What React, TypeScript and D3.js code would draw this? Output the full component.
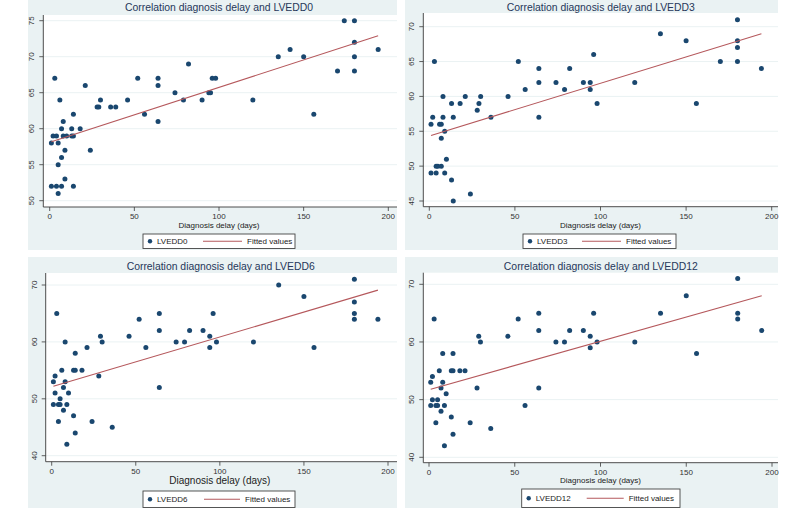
import React from 'react';
import * as d3 from 'd3';

const xTicks = [0, 50, 100, 150, 200];
const yTicks0 = [50, 55, 60, 65, 70, 75];
const yTicks3 = [45, 50, 55, 60, 65, 70];
const yTicks6 = [40, 50, 60, 70];
const yTicks12 = [40, 50, 60, 70];

const lvedd0: [number, number][] = [
  [1, 58], [1, 52], [2, 59], [3, 67], [4, 59], [4, 52], [5, 58], [5, 55], [5, 51], [6, 64],
  [7, 60], [7, 56], [7, 52], [8, 61], [8, 59], [9, 57], [9, 53], [10, 59], [13, 60], [13, 59],
  [14, 62], [14, 59], [14, 52], [18, 60], [21, 66], [24, 57], [28, 63], [29, 63], [30, 64],
  [36, 63], [39, 63], [46, 64], [52, 67], [56, 62], [64, 67], [64, 66], [64, 61], [74, 65],
  [79, 64], [82, 69], [90, 64], [94, 65], [95, 65], [96, 67], [98, 67], [120, 64], [135, 70],
  [142, 71], [150, 70], [156, 62], [170, 68], [174, 75], [180, 75], [180, 72], [180, 70],
  [180, 68], [194, 71],
];
const lvedd3: [number, number][] = [
  [1, 56], [1, 49], [2, 57], [3, 65], [4, 50], [4, 49], [5, 50], [6, 56], [7, 56], [7, 54],
  [7, 50], [8, 60], [8, 57], [9, 55], [9, 49], [10, 51], [13, 59], [13, 48], [14, 57], [14, 45],
  [18, 59], [21, 60], [24, 46], [28, 58], [29, 59], [30, 60], [36, 57], [46, 60], [52, 65],
  [56, 61], [64, 64], [64, 62], [64, 57], [74, 62], [79, 61], [82, 64], [90, 62], [94, 62],
  [94, 61], [96, 66], [98, 59], [120, 62], [135, 69], [150, 68], [156, 59], [170, 65],
  [180, 71], [180, 68], [180, 67], [180, 65], [194, 64],
];
const lvedd6: [number, number][] = [
  [1, 53], [1, 49], [2, 54], [2, 51], [3, 65], [4, 49], [4, 46], [5, 50], [5, 49], [6, 55],
  [7, 52], [7, 48], [8, 60], [8, 53], [9, 49], [9, 42], [10, 51], [13, 55], [13, 47], [14, 58],
  [14, 55], [14, 44], [18, 55], [21, 59], [24, 46], [28, 54], [29, 61], [30, 60], [36, 45],
  [46, 61], [52, 64], [56, 59], [64, 65], [64, 62], [64, 52], [74, 60], [79, 60], [82, 62],
  [90, 62], [94, 61], [94, 59], [96, 65], [98, 60], [120, 60], [135, 70], [150, 68], [156, 59],
  [180, 71], [180, 67], [180, 65], [180, 64], [194, 64],
];
const lvedd12: [number, number][] = [
  [1, 53], [1, 49], [2, 54], [2, 50], [3, 64], [4, 49], [4, 46], [5, 50], [5, 49], [6, 55],
  [7, 52], [7, 48], [8, 58], [8, 53], [9, 49], [9, 42], [10, 51], [13, 55], [13, 47], [14, 58],
  [14, 55], [14, 44], [18, 55], [21, 55], [24, 46], [28, 52], [29, 61], [30, 60], [36, 45],
  [46, 61], [52, 64], [56, 49], [64, 65], [64, 62], [64, 52], [74, 60], [79, 60], [82, 62],
  [90, 62], [94, 61], [94, 59], [96, 65], [98, 60], [120, 60], [135, 65], [150, 68], [156, 58],
  [180, 71], [180, 65], [180, 64], [194, 62],
];

const fit0: [number, number][] = [[1, 58.2], [194, 72.9]];
const fit3: [number, number][] = [[1, 54.4], [194, 69.0]];
const fit6: [number, number][] = [[1, 52.2], [194, 69.1]];
const fit12: [number, number][] = [[1, 51.8], [194, 68.0]];

const titles = [
  'Correlation diagnosis delay and LVEDD0',
  'Correlation diagnosis delay and LVEDD3',
  'Correlation diagnosis delay and LVEDD6',
  'Correlation diagnosis delay and LVEDD12',
];
const seriesNames = ['LVEDD0', 'LVEDD3', 'LVEDD6', 'LVEDD12'];
const xLabel = 'Diagnosis delay (days)';
const fitLabel = 'Fitted values';

const BG = '#eaf2f3';
const NAVY = '#1a476f';
const LINE = '#b5585c';
const AXIS = '#3a3a3a';
const FONT = 'Liberation Sans, Arial, sans-serif';

type Panel = {
  title: string; name: string; data: [number, number][]; fit: [number, number][];
  yTicks: number[];
  bg: [number, number, number, number];
  plot: [number, number, number, number];
  xr: [number, number]; ydom: [number, number]; yr: [number, number];
  titleX: number; titleY: number; tickY: number; xlabY: number; xlabSize: number;
  leg: [number, number, number, number]; legLine: [number, number];
};

const panels: Panel[] = [
  {
    title: titles[0], name: seriesNames[0], data: lvedd0, fit: fit0, yTicks: yTicks0,
    bg: [28, 0, 397, 250], plot: [43.3, 15, 397, 207], xr: [49.7, 388.3], ydom: [50, 75], yr: [200.7, 20.7],
    titleX: 219, titleY: 7.5, tickY: 216.5, xlabY: 225.5, xlabSize: 8, leg: [143, 234, 295, 248.5], legLine: [60, 99],
  },
  {
    title: titles[1], name: seriesNames[1], data: lvedd3, fit: fit3, yTicks: yTicks3,
    bg: [405, 0, 778, 250], plot: [423.3, 13, 778, 206.7], xr: [429.3, 771.7], ydom: [45, 70], yr: [201, 26.7],
    titleX: 600.8, titleY: 7.3, tickY: 216, xlabY: 225, xlabSize: 8, leg: [523, 234, 676, 248.5], legLine: [59, 98],
  },
  {
    title: titles[2], name: seriesNames[2], data: lvedd6, fit: fit6, yTicks: yTicks6,
    bg: [28, 257, 397, 508], plot: [45.7, 273, 397, 461.7], xr: [51.7, 388], ydom: [40, 70], yr: [455.7, 285],
    titleX: 220.7, titleY: 266.7, tickY: 471, xlabY: 480.5, xlabSize: 10, leg: [143, 491, 295, 507.5], legLine: [61, 97],
  },
  {
    title: titles[3], name: seriesNames[3], data: lvedd12, fit: fit12, yTicks: yTicks12,
    bg: [405, 257, 778, 508], plot: [423.3, 272.7, 778, 462.7], xr: [429, 772], ydom: [40, 70], yr: [457.3, 284.3],
    titleX: 600.8, titleY: 266, tickY: 472, xlabY: 480.5, xlabSize: 8, leg: [521.7, 489, 680, 507.5], legLine: [65, 102],
  },
];

function PanelView({ p }: { p: Panel }) {
  const x = d3.scaleLinear().domain([0, 200]).range(p.xr);
  const y = d3.scaleLinear().domain(p.ydom).range(p.yr);
  const [bx0, by0, bx1, by1] = p.bg;
  const [px0, py0, px1, py1] = p.plot;
  const line = d3.line<[number, number]>().x(d => x(d[0])).y(d => y(d[1]));
  const [lx0, ly0, lx1, ly1] = p.leg;
  const lcy = (ly0 + ly1) / 2;
  return (
    <g>
      <rect x={bx0} y={by0} width={bx1 - bx0} height={by1 - by0} fill={BG} />
      <rect x={px0} y={py0} width={px1 - px0} height={py1 - py0} fill="#ffffff" />
      <text x={p.titleX} y={p.titleY} dy="0.35em" textAnchor="middle" fontSize={10.4}
        fontFamily={FONT} fill="#26375a">{p.title}</text>
      {p.yTicks.map(t => (
        <g key={'g' + t}>
          <line x1={px0} x2={px1} y1={y(t)} y2={y(t)} stroke={BG} strokeWidth={1} />
          <line x1={px0 - 4} x2={px0} y1={y(t)} y2={y(t)} stroke={AXIS} strokeWidth={0.8} />
          <text transform={`translate(${px0 - 9},${y(t)}) rotate(-90)`} textAnchor="middle" dy="0"
            fontSize={8} fontFamily={FONT} fill="#333">{t}</text>
        </g>
      ))}
      <line x1={px0} x2={px0} y1={py0} y2={py1} stroke={AXIS} strokeWidth={0.9} />
      <line x1={px0} x2={px1} y1={py1} y2={py1} stroke={AXIS} strokeWidth={0.9} />
      {xTicks.map(t => (
        <g key={'x' + t}>
          <line x1={x(t)} x2={x(t)} y1={py1} y2={py1 + 4} stroke={AXIS} strokeWidth={0.8} />
          <text x={x(t)} y={p.tickY} dy="0.35em" textAnchor="middle" fontSize={8} fontFamily={FONT}
            fill="#333">{t}</text>
        </g>
      ))}
      <text x={(x(0) + x(200)) / 2} y={p.xlabY} dy="0.35em" textAnchor="middle" fontSize={p.xlabSize}
        fontFamily={FONT} fill="#222">{xLabel}</text>
      {p.data.map((d, i) => (
        <circle key={i} cx={x(d[0])} cy={y(d[1])} r={2.5} fill={NAVY} />
      ))}
      <path d={line(p.fit) || ''} fill="none" stroke={LINE} strokeWidth={1.1} />
      <rect x={lx0} y={ly0} width={lx1 - lx0} height={ly1 - ly0} fill="#ffffff" stroke="#444" strokeWidth={0.9} />
      <circle cx={lx0 + 7} cy={lcy} r={2.2} fill={NAVY} />
      <text x={lx0 + 14} y={lcy} dy="0.35em" fontSize={8} fontFamily={FONT} fill="#222">{p.name}</text>
      <line x1={lx0 + p.legLine[0]} x2={lx0 + p.legLine[1]} y1={lcy} y2={lcy} stroke={LINE} strokeWidth={1.1} />
      <text x={lx0 + p.legLine[1] + 5} y={lcy} dy="0.35em" fontSize={8} fontFamily={FONT} fill="#222">{fitLabel}</text>
    </g>
  );
}

export default function App() {
  return (
    <svg width={800} height={514} style={{ position: 'absolute', left: 0, top: 0, background: '#fff' }}>
      {panels.map((p, i) => <PanelView key={i} p={p} />)}
    </svg>
  );
}
